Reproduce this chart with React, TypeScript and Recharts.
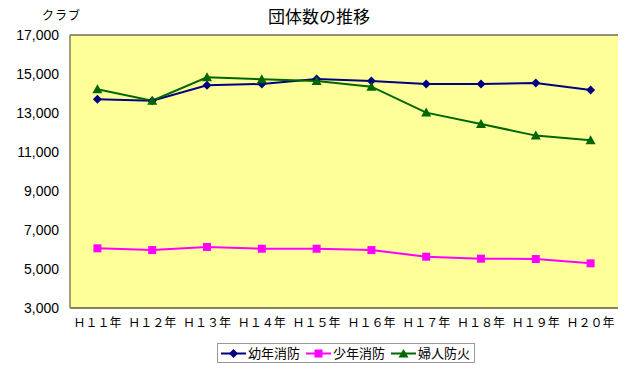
import React from "react";
import { LineChart, Line, XAxis, YAxis, CartesianGrid } from "recharts";

const years = ["Ｈ１１年", "Ｈ１２年", "Ｈ１３年", "Ｈ１４年", "Ｈ１５年", "Ｈ１６年", "Ｈ１７年", "Ｈ１８年", "Ｈ１９年", "Ｈ２０年"];
const youthClubs = [13700, 13630, 14420, 14490, 14740, 14640, 14490, 14490, 14540, 14180];
const juniorClubs = [6060, 5970, 6130, 6040, 6040, 5970, 5630, 5530, 5510, 5290];
const womenClubs = [14220, 13630, 14830, 14730, 14640, 14350, 13020, 12440, 11840, 11600];
const yTicks = [3000, 5000, 7000, 9000, 11000, 13000, 15000, 17000];

const seriesNames = ["幼年消防", "少年消防", "婦人防火"];
const seriesColors = ["#000080", "#ff00ff", "#006600"];

const data = years.map((y, i) => ({
  year: y,
  youth: youthClubs[i],
  junior: juniorClubs[i],
  women: womenClubs[i],
}));

const jpFont = "'Noto Sans CJK JP', sans-serif";
const numFont = "'Liberation Sans', Arial, sans-serif";
const borderColor = "#808060";

const Diamond = (p: any) => (
  <polygon
    key={"d" + p.index}
    points={`${p.cx},${p.cy - 4.5} ${p.cx + 4.5},${p.cy} ${p.cx},${p.cy + 4.5} ${p.cx - 4.5},${p.cy}`}
    fill={seriesColors[0]}
  />
);
const Square = (p: any) => (
  <rect key={"s" + p.index} x={p.cx - 4} y={p.cy - 4} width={8} height={8} fill={seriesColors[1]} />
);
const Triangle = (p: any) => (
  <polygon
    key={"t" + p.index}
    points={`${p.cx},${p.cy - 5} ${p.cx + 5},${p.cy + 4} ${p.cx - 5},${p.cy + 4}`}
    fill={seriesColors[2]}
  />
);

function LegendMark({ i }: { i: number }) {
  const c = seriesColors[i];
  let mark;
  if (i === 0) mark = <polygon points="12.5,5 17,9.5 12.5,14 8,9.5" fill={c} />;
  else if (i === 1) mark = <rect x={8.5} y={5.5} width={8} height={8} fill={c} />;
  else mark = <polygon points="12.5,5 17.5,13.5 7.5,13.5" fill={c} />;
  return (
    <svg width={25} height={19} style={{ display: "block" }}>
      <line x1={0} y1={9.5} x2={25} y2={9.5} stroke={c} strokeWidth={2} />
      {mark}
    </svg>
  );
}

export default function App() {
  return (
    <div style={{ position: "absolute", left: 0, top: 0, width: 640, height: 370, background: "#fff" }}>
      <div
        style={{
          position: "absolute",
          left: 0,
          width: 638,
          top: 3,
          textAlign: "center",
          fontFamily: jpFont,
          fontSize: 17,
          fontWeight: 400,
          color: "#000",
        }}
      >
        団体数の推移
      </div>
      <div
        style={{
          position: "absolute",
          left: 42,
          top: 6,
          fontFamily: jpFont,
          fontSize: 12,
          letterSpacing: 1,
        }}
      >
        クラブ
      </div>
      <LineChart width={640} height={370} data={data} margin={{ top: 35, right: 22, bottom: 32, left: 0 }}>
        <CartesianGrid vertical={false} fill="#ffff99" stroke="#222" strokeWidth={1.2} />
        <XAxis
          dataKey="year"
          scale="band"
          height={30}
          tickLine={false}
          axisLine={{ stroke: borderColor, strokeWidth: 1.5 }}
          tickMargin={4}
          tick={{ fill: "#000", fontSize: 12, fontFamily: jpFont }}
          interval={0}
        />
        <YAxis
          yAxisId="left"
          width={70}
          domain={[3000, 17000]}
          ticks={yTicks}
          tickLine={false}
          tickMargin={5}
          axisLine={{ stroke: borderColor, strokeWidth: 1.5 }}
          tick={{ fill: "#000", fontSize: 14, fontFamily: numFont }}
          tickFormatter={(v: number) => v.toLocaleString("en-US")}
        />
        <YAxis
          yAxisId="right"
          orientation="right"
          width={0}
          domain={[3000, 17000]}
          ticks={yTicks}
          tick={false}
          tickLine={false}
          axisLine={{ stroke: borderColor, strokeWidth: 1.5 }}
        />
        <Line yAxisId="left" dataKey="youth" stroke={seriesColors[0]} strokeWidth={2} dot={Diamond} isAnimationActive={false} />
        <Line yAxisId="left" dataKey="junior" stroke={seriesColors[1]} strokeWidth={2} dot={Square} isAnimationActive={false} />
        <Line yAxisId="left" dataKey="women" stroke={seriesColors[2]} strokeWidth={2} dot={Triangle} isAnimationActive={false} />
      </LineChart>
      <div
        style={{
          position: "absolute",
          left: 217,
          top: 343,
          width: 256,
          height: 18,
          border: "1px solid #999",
          display: "flex",
          alignItems: "center",
          fontFamily: jpFont,
          fontSize: 13,
          lineHeight: "18px",
          boxSizing: "content-box",
        }}
      >
        {seriesNames.map((n, i) => (
          <div key={n} style={{ display: "flex", alignItems: "center", marginLeft: i === 0 ? 3 : 6 }}>
            <LegendMark i={i} />
            <span style={{ marginLeft: 2 }}>{n}</span>
          </div>
        ))}
      </div>
    </div>
  );
}
